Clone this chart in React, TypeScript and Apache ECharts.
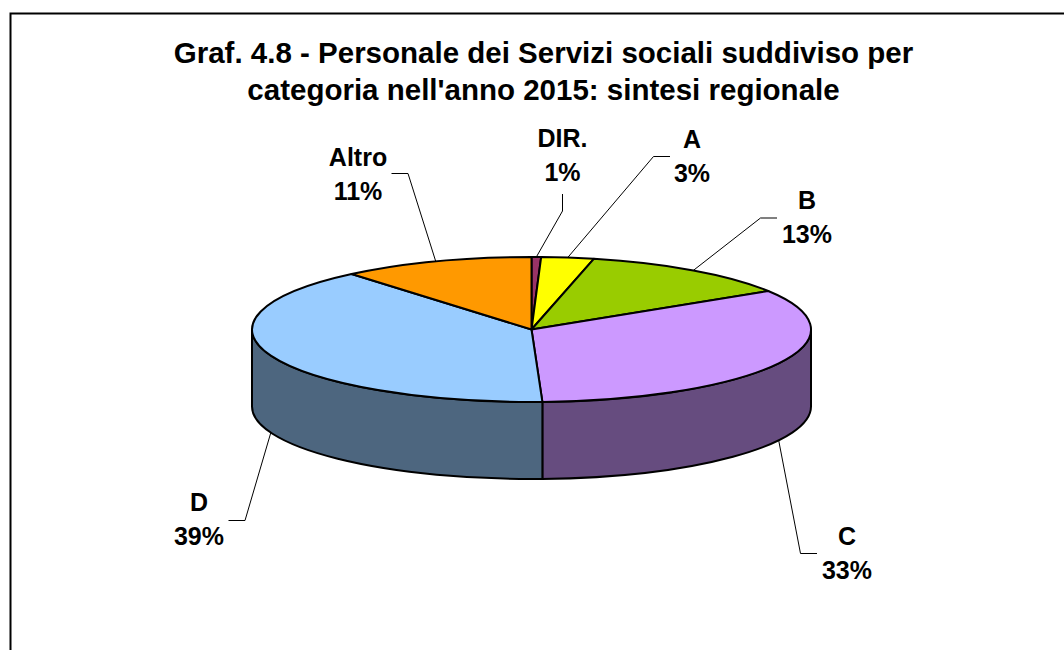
import React, { useEffect, useRef } from "react";
import * as echarts from "echarts";

const titleText = "Graf. 4.8 - Personale dei Servizi sociali suddiviso per\ncategoria nell'anno 2015: sintesi regionale";
const categories = ["DIR.", "A", "B", "C", "D", "Altro"];
const values = [0.55, 3.03, 12.5, 33.3, 39.49, 11.13];
const percentLabels = ["1%", "3%", "13%", "33%", "39%", "11%"];
const topColors = ["#993366", "#FFFF00", "#99CC00", "#CC99FF", "#99CCFF", "#FF9900"];
const sideColors = ["#4D1A33", "#808000", "#4D6600", "#664C7F", "#4D667F", "#804D00"];

// Layout of the pie and of the labels
const CX = 531.5, CY = 329.5, RX = 279.5, RY = 72.5, DEPTH = 77;
const labelCenters: number[][] = [[562.5, 138], [692, 139], [807, 200], [847, 536], [199, 502], [358, 157]];
const labelGap = 34;
const elbows: number[][][] = [
  [[562.5, 194], [562.5, 211]],
  [[670, 156.5], [653.5, 156.5]],
  [[777, 218], [760.5, 218]],
  [[817, 553.5], [800.5, 553.5]],
  [[228.5, 520.5], [245, 520.5]],
  [[391.5, 173.5], [408, 173.5]],
];

const total = values.reduce((a, b) => a + b, 0);
const startAngles: number[] = [];
values.reduce((acc, v, i) => { startAngles[i] = (acc / total) * 360; return acc + v; }, 0);

const pt = (deg: number, dy = 0) => {
  const r = (deg * Math.PI) / 180;
  return [CX + RX * Math.sin(r), CY - RY * Math.cos(r) + dy];
};
const span = (i: number, v: number) => [startAngles[i], startAngles[i] + (v / total) * 360];

function renderSide(params: any, api: any) {
  const i = params.dataIndex;
  const [a0, a1] = span(i, api.value(0));
  const s = Math.max(a0, 90), e = Math.min(a1, 270);
  if (e <= s) return null;
  const p0 = pt(s), p1 = pt(e), q1 = pt(e, DEPTH), q0 = pt(s, DEPTH);
  const large = e - s > 180 ? 1 : 0;
  const d = `M${p0[0]} ${p0[1]}A${RX} ${RY} 0 ${large} 1 ${p1[0]} ${p1[1]}L${q1[0]} ${q1[1]}A${RX} ${RY} 0 ${large} 0 ${q0[0]} ${q0[1]}Z`;
  return {
    type: "path",
    shape: { pathData: d },
    style: { fill: sideColors[i], stroke: "#000", lineWidth: 2, lineJoin: "round" },
  };
}

function renderTop(params: any, api: any) {
  const i = params.dataIndex;
  const [a0, a1] = span(i, api.value(0));
  const p0 = pt(a0), p1 = pt(a1);
  const large = a1 - a0 > 180 ? 1 : 0;
  const d = `M${CX} ${CY}L${p0[0]} ${p0[1]}A${RX} ${RY} 0 ${large} 1 ${p1[0]} ${p1[1]}Z`;
  return {
    type: "path",
    shape: { pathData: d },
    style: { fill: topColors[i], stroke: "#000", lineWidth: 2, lineJoin: "round" },
  };
}

function renderLabel(params: any, api: any) {
  const i = params.dataIndex;
  const [a0, a1] = span(i, api.value(0));
  const mid = (a0 + a1) / 2;
  const front = mid > 90 && mid < 270;
  const anchor = pt(mid, front ? DEPTH : 0);
  const [cx, cy] = labelCenters[i];
  const textStyle = { fill: "#000", font: 'bold 25px "Liberation Sans", Arial, sans-serif', align: "center", verticalAlign: "middle" };
  return {
    type: "group",
    children: [
      {
        type: "polyline",
        shape: { points: [...elbows[i], anchor] },
        style: { stroke: "#000", lineWidth: 1, fill: "none" },
      },
      { type: "text", style: { ...textStyle, text: categories[i], x: cx, y: cy } },
      { type: "text", style: { ...textStyle, text: percentLabels[i], x: cx, y: cy + labelGap } },
    ],
  };
}

export default function App() {
  const ref = useRef<HTMLDivElement>(null);
  useEffect(() => {
    const chart = echarts.init(ref.current!, null, { renderer: "svg" });
    const data = values.map((v, i) => ({ name: categories[i], value: [v] }));
    chart.setOption({
      animation: false,
      backgroundColor: "#fff",
      title: {
        text: titleText,
        left: 538.5,
        top: 29,
        textAlign: "center",
        textStyle: {
          fontFamily: '"Liberation Sans", Arial, sans-serif',
          fontWeight: "bold",
          fontSize: 29.5,
          lineHeight: 37,
          color: "#000",
        },
      },
      graphic: [
        {
          type: "rect",
          silent: true,
          z: -1,
          shape: { x: 10.5, y: 13.5, width: 1100, height: 700 },
          style: { fill: "#fff", stroke: "#000", lineWidth: 2 },
        },
      ],
      series: [
        { type: "custom", coordinateSystem: "none", renderItem: renderSide, data, z: 2, silent: true },
        { type: "custom", coordinateSystem: "none", renderItem: renderTop, data, z: 3, silent: true },
        { type: "custom", coordinateSystem: "none", renderItem: renderLabel, data, z: 4, silent: true },
      ],
    });
    return () => chart.dispose();
  }, []);
  return <div ref={ref} style={{ position: "absolute", left: 0, top: 0, width: 1064, height: 650 }} />;
}
